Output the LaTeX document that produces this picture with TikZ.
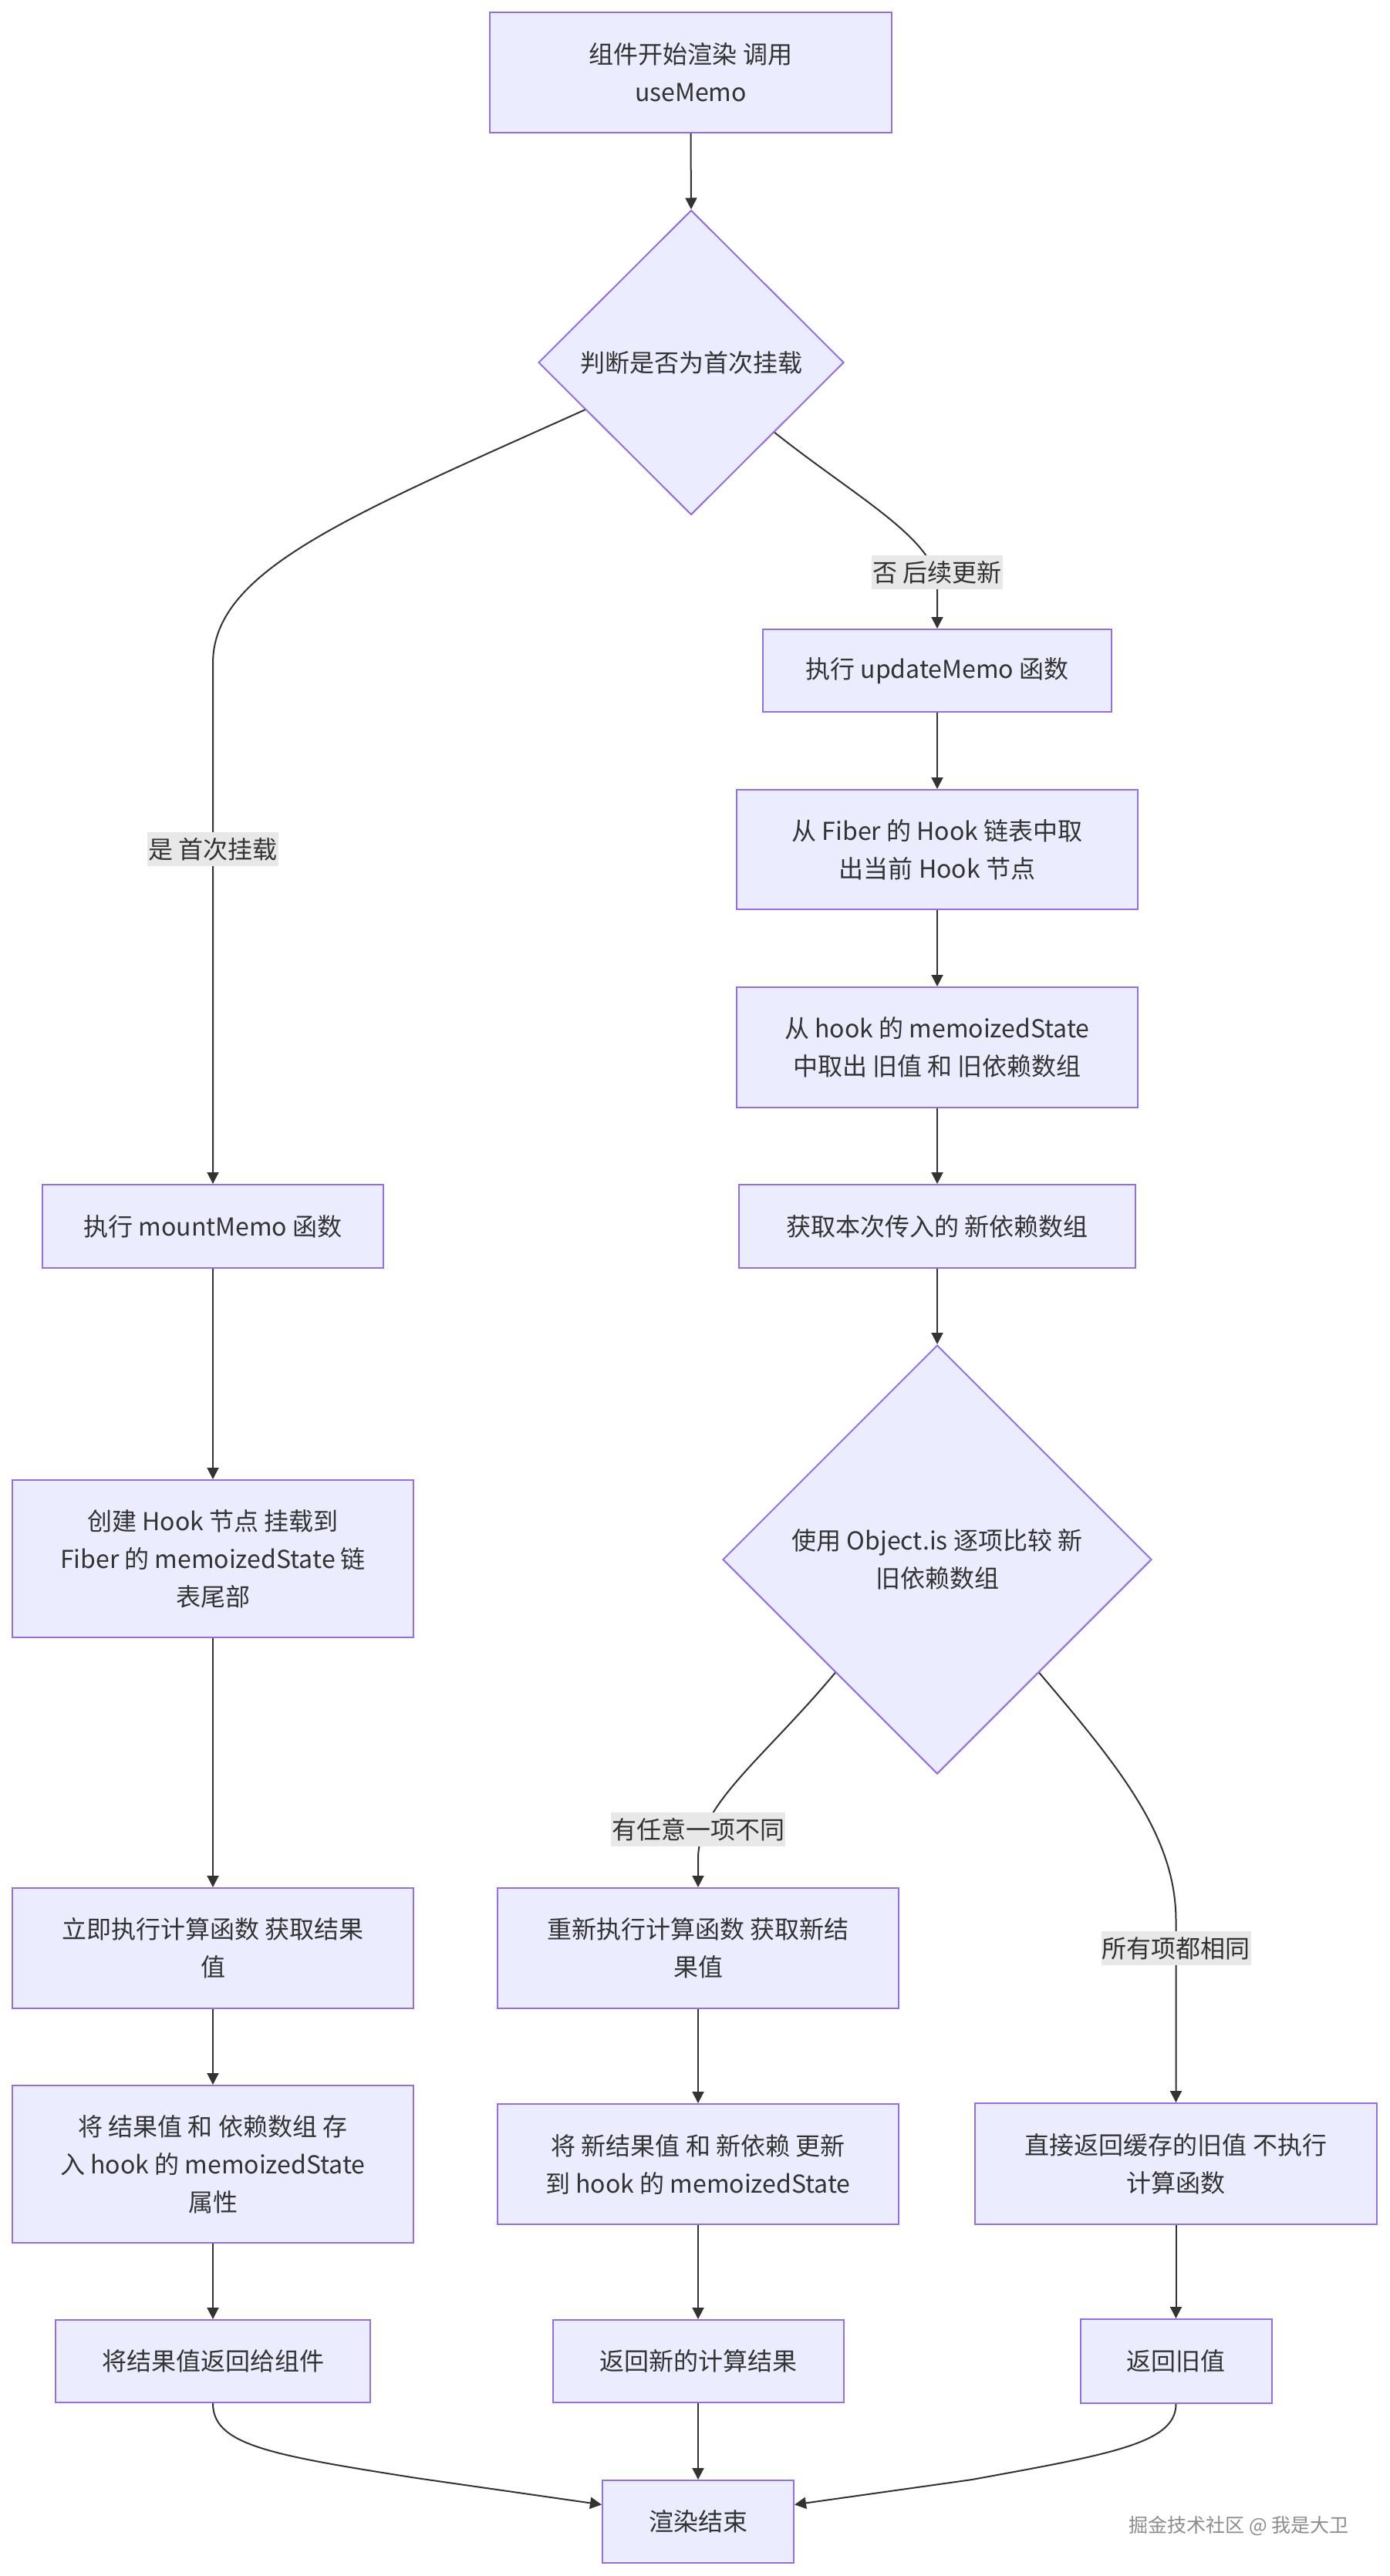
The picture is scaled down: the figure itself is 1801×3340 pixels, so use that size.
\documentclass[tikz,border=0pt]{standalone}
\usepackage{fontspec}
\setmainfont{Noto Sans CJK SC}
\usetikzlibrary{shapes.geometric,arrows.meta}
\definecolor{nodefill}{HTML}{ECECFF}
\definecolor{nodeline}{HTML}{9370DB}
\definecolor{txt}{HTML}{333333}
\definecolor{lblbg}{HTML}{E8E8E8}
\begin{document}
\begin{tikzpicture}[x=0.5pt,y=-0.5pt,
  every node/.style={font=\fontsize{16pt}{24.5pt}\selectfont, text=txt},
  proc/.style={draw=nodeline, fill=nodefill, line width=1pt, rectangle, align=center, inner sep=0pt},
  dec/.style={draw=nodeline, fill=nodefill, line width=1pt, diamond, align=center, inner sep=0pt},
  elabel/.style={fill=lblbg, inner xsep=0.5pt, inner ysep=3.5pt},
  flow/.style={draw=txt, line width=1pt, -{Triangle[length=7.5pt,width=7.5pt]}},
]
\fill[white] (0,0) rectangle (1801,3340);
\path[use as bounding box] (0,0) rectangle (1801,3340);

% nodes
\node[proc, minimum width=260.5pt, minimum height=78pt] (start) at (895.5,94) {组件开始渲染 调用\\useMemo};
\node[dec, minimum width=198pt, minimum height=197.5pt] (d1) at (896,470) {判断是否为首次挂载};
\node[proc, minimum width=226pt, minimum height=53.5pt] (update) at (1215,869.5) {执行 updateMemo 函数};
\node[proc, minimum width=260pt, minimum height=77.5pt] (fiber) at (1215,1101.5) {从 Fiber 的 Hook 链表中取\\出当前 Hook 节点};
\node[proc, minimum width=260pt, minimum height=78pt] (hookst) at (1215,1358) {从 hook 的 memoizedState\\中取出 旧值 和 旧依赖数组};
\node[proc, minimum width=257pt, minimum height=54pt] (newdeps) at (1215,1590) {获取本次传入的 新依赖数组};
\node[dec, minimum width=278pt, minimum height=278pt] (d2) at (1215,2022) {使用 Object.is 逐项比较 新\\旧依赖数组};
\node[proc, minimum width=221pt, minimum height=54pt] (mount) at (276,1590) {执行 mountMemo 函数};
\node[proc, minimum width=260pt, minimum height=102pt] (create) at (276,2021) {创建 Hook 节点 挂载到\\Fiber 的 memoizedState 链\\表尾部};
\node[proc, minimum width=260pt, minimum height=78pt] (runcalc) at (276,2526) {立即执行计算函数 获取结果\\值};
\node[proc, minimum width=260pt, minimum height=102pt] (store) at (276,2806) {将 结果值 和 依赖数组 存\\入 hook 的 memoizedState\\属性};
\node[proc, minimum width=204pt, minimum height=53.5pt] (retval) at (276,3061.5) {将结果值返回给组件};
\node[proc, minimum width=260pt, minimum height=78pt] (rerun) at (905,2526) {重新执行计算函数 获取新结\\果值};
\node[proc, minimum width=260pt, minimum height=78pt] (update2) at (905,2806) {将 新结果值 和 新依赖 更新\\到 hook 的 memoizedState};
\node[proc, minimum width=188.5pt, minimum height=53.5pt] (retnew) at (905,3061.5) {返回新的计算结果};
\node[proc, minimum width=260.5pt, minimum height=78.5pt] (direct) at (1524.5,2805.5) {直接返回缓存的旧值 不执行\\计算函数};
\node[proc, minimum width=124pt, minimum height=54.5pt] (retold) at (1524.5,3061.5) {返回旧值};
\node[proc, minimum width=124pt, minimum height=53.5pt] (end) at (905,3269.5) {渲染结束};

% edges
\draw[flow] (start.south) -- (d1.north);
\draw[flow] (d1.204) .. controls (450,670) and (276,740) .. (276,860) -- (mount.north);
\draw[flow] (d1.-40.7) .. controls (1110,645) and (1215,700) .. (1215,760) -- (update.north);
\draw[flow] (update.south) -- (fiber.north);
\draw[flow] (fiber.south) -- (hookst.north);
\draw[flow] (hookst.south) -- (newdeps.north);
\draw[flow] (newdeps.south) -- (d2.north);
\draw[flow] (d2.228.7) .. controls (990,2280) and (905,2340) .. (905,2410) -- (rerun.north);
\draw[flow] (d2.-48.7) .. controls (1450,2290) and (1524.5,2380) .. (1524.5,2490) -- (direct.north);
\draw[flow] (mount.south) -- (create.north);
\draw[flow] (create.south) -- (runcalc.north);
\draw[flow] (runcalc.south) -- (store.north);
\draw[flow] (store.south) -- (retval.north);
\draw[flow] (rerun.south) -- (update2.north);
\draw[flow] (update2.south) -- (retnew.north);
\draw[flow] (retnew.south) -- (end.north);
\draw[flow] (direct.south) -- (retold.north);
\draw[flow] (retval.south) .. controls (276,3170) and (350,3183) .. (540,3213) -- (end.170.2);
\draw[flow] (retold.south) .. controls (1524.5,3168) and (1440,3182) .. (1260,3215) -- (end.10.1);

% edge labels
\node[elabel] (l1) at (276,1101) {是 首次挂载};
\node[elabel] (l2) at (1215,742) {否 后续更新};
\node[elabel] (l3) at (905,2372) {有任意一项不同};
\node[elabel] (l4) at (1524.5,2526) {所有项都相同};

% watermark
\node[text=black!45, font=\fontsize{12.5pt}{14pt}\selectfont] (wm) at (1606,3275) {掘金技术社区 @ 我是大卫};
\end{tikzpicture}
\end{document}
